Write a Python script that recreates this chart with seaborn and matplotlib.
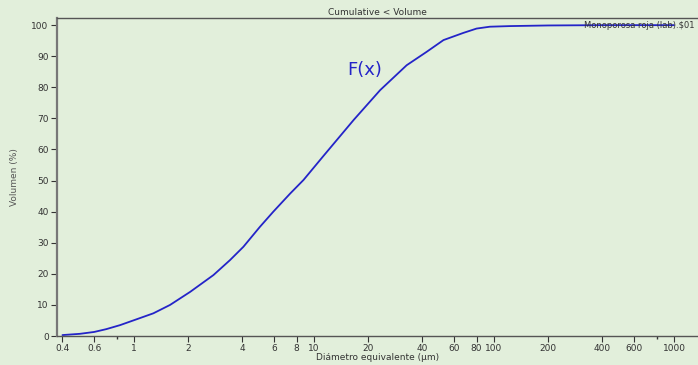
import matplotlib
matplotlib.use('Agg')
import matplotlib.pyplot as plt
import matplotlib.ticker as mticker
import seaborn as sns
import pandas as pd

diametro = [0.4, 0.5, 0.6, 0.7, 0.836, 1.035, 1.28, 1.585, 2.05, 2.76, 3.41,
            4.05, 5.0, 5.94, 7.36, 8.74, 11.27, 16.6, 23.3, 32.7, 42.2, 52.4,
            67.5, 80, 94.8, 123, 200, 400, 1000]
volumen = [0.3, 0.7, 1.3, 2.2, 3.5, 5.4, 7.3, 10.0, 14.2, 19.6, 24.4,
           28.7, 35.1, 40.0, 45.8, 50.2, 57.9, 69.5, 79.1, 87.1, 91.4, 95.2,
           97.5, 98.9, 99.5, 99.7, 99.9, 100, 100]

ticks_x = [0.4, 0.6, 1, 2, 4, 6, 8, 10, 20, 40, 60, 80, 100, 200, 400, 600, 1000]
etiquetas_x = ['0.4', '0.6', '1', '2', '4', '6', '8', '10', '20', '40', '60',
               '80', '100', '200', '400', '600', '1000']
ticks_y = list(range(0, 101, 10))

fondo = '#e2efdb'
sns.set_style('white', {'axes.facecolor': fondo, 'figure.facecolor': fondo})
plt.rcParams['font.family'] = ['DejaVu Sans']

df = pd.DataFrame({'diametro': diametro, 'volumen': volumen})

fig = plt.figure(figsize=(6.98, 3.65), dpi=100)
ax = fig.add_axes([57 / 698, 29 / 365, 641 / 698, 318 / 365])

sns.lineplot(data=df, x='diametro', y='volumen', ax=ax, color='#2424c8',
             linewidth=1.3)

ax.set_xscale('log')
ax.set_xlim(0.373, 1360)
ax.set_ylim(0, 102.3)

ax.xaxis.set_major_locator(mticker.FixedLocator(ticks_x))
ax.xaxis.set_major_formatter(mticker.FixedFormatter(etiquetas_x))
ax.xaxis.set_minor_locator(mticker.FixedLocator([0.8, 800]))
ax.xaxis.set_minor_formatter(mticker.NullFormatter())
ax.set_yticks(ticks_y)

ax.tick_params(axis='x', which='both', bottom=True)
ax.tick_params(axis='y', which='both', left=True)
ax.tick_params(axis='both', which='major', labelsize=6.5, colors='#333333',
               length=4, width=0.8, direction='out', pad=2)
ax.tick_params(axis='x', which='minor', length=2, width=1, color='#333333')

for lado in ['left', 'top', 'bottom']:
    ax.spines[lado].set_visible(True)
    ax.spines[lado].set_color('#555555')
ax.spines['left'].set_linewidth(1.6)
ax.spines['left'].set_color('#777777')
ax.spines['bottom'].set_linewidth(1.0)
ax.spines['top'].set_linewidth(1.0)
ax.spines['right'].set_visible(False)

ax.set_xlabel('Diámetro equivalente (µm)', fontsize=6.5, color='#333333',
              labelpad=0)
ax.set_ylabel('Volumen (%)', fontsize=6.5, color='#555555', labelpad=9)
ax.set_title('Cumulative < Volume', fontsize=6.5, color='#333333', pad=2)

ax.text(15.2, 85.5, 'F(x)', color='#2424c8', fontsize=13, ha='left',
        va='center')
ax.text(0.995, 0.975, r'Monoporosa roja (lab).\$01', transform=ax.transAxes,
        fontsize=6, color='#333333', ha='right', va='center')

fig.savefig('out.png', dpi=100, facecolor=fondo)
